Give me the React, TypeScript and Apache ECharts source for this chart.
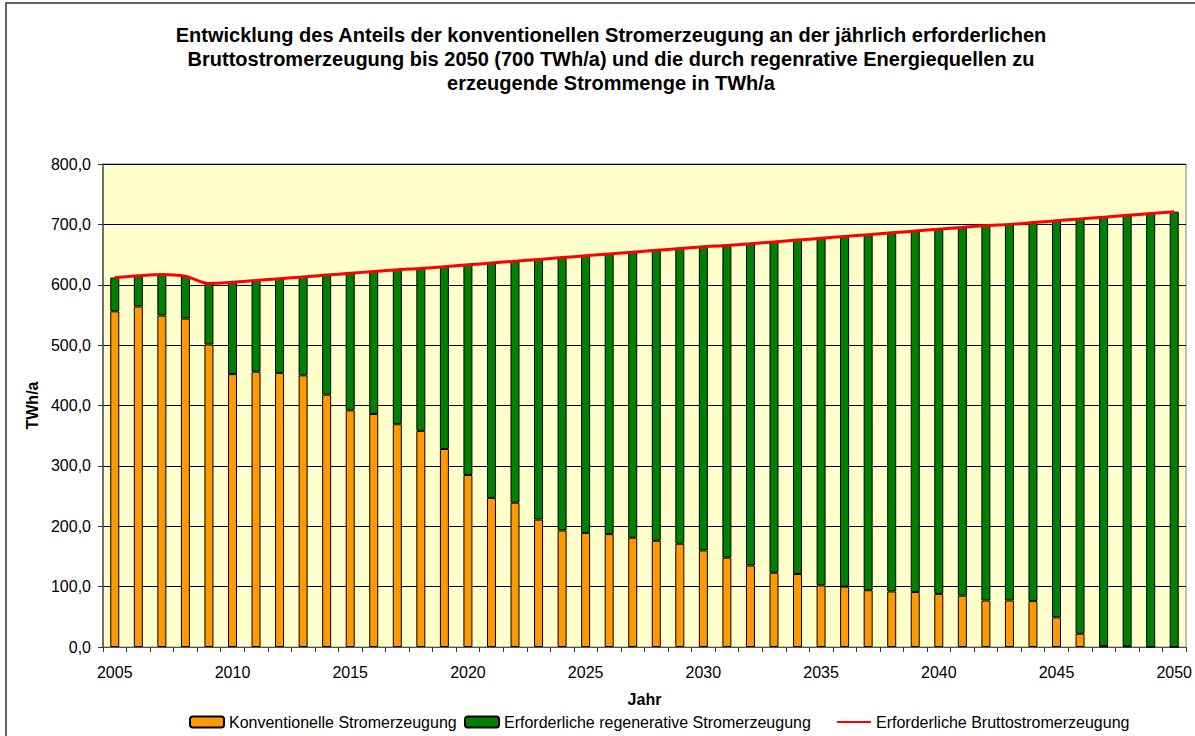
import React, { useEffect, useRef } from "react";
import * as echarts from "echarts";

const years = [
  "2005","2006","2007","2008","2009","2010","2011","2012","2013","2014",
  "2015","2016","2017","2018","2019","2020","2021","2022","2023","2024",
  "2025","2026","2027","2028","2029","2030","2031","2032","2033","2034",
  "2035","2036","2037","2038","2039","2040","2041","2042","2043","2044",
  "2045","2046","2047","2048","2049","2050",
];

const konventionell = [
  556, 564, 549, 544, 501, 452, 456, 454, 450, 418,
  392, 386, 369, 358, 328, 285, 247, 239, 211, 193,
  189, 187, 181, 176, 171, 160, 148, 135, 123, 121,
  102, 100, 94, 92, 91, 88, 85, 77, 77, 76,
  49, 22, 1, 1, 0, 0,
];

const regenerativ = [
  56, 51, 68, 70, 101, 152, 151, 156, 163, 198,
  227, 236, 256, 269, 302, 348, 389, 400, 431, 452,
  459, 464, 473, 481, 489, 503, 517, 533, 548, 553,
  575, 580, 589, 594, 598, 604, 610, 621, 623, 627,
  657, 687, 711, 714, 718, 721,
];

const brutto = [
  612, 615, 617, 614, 602, 604, 607, 610, 613, 616,
  619, 622, 625, 627, 630, 633, 636, 639, 642, 645,
  648, 651, 654, 657, 660, 663, 665, 668, 671, 674,
  677, 680, 683, 686, 689, 692, 695, 698, 700, 703,
  706, 709, 712, 715, 718, 721,
];

const seriesNames = [
  "Konventionelle Stromerzeugung",
  "Erforderliche regenerative Stromerzeugung",
  "Erforderliche Bruttostromerzeugung",
];

const titleText =
  "Entwicklung des Anteils der konventionellen Stromerzeugung an der jährlich erforderlichen\n" +
  "Bruttostromerzeugung bis 2050 (700 TWh/a) und die durch regenrative Energiequellen zu\n" +
  "erzeugende Strommenge in TWh/a";

const FONT = "Arial, 'Liberation Sans', sans-serif";

export default function App() {
  const ref = useRef<HTMLDivElement>(null);

  useEffect(() => {
    if (!ref.current) return;
    const chart = echarts.init(ref.current, null, { renderer: "svg" });
    const legendBase = {
      top: 714,
      padding: 0,
      itemWidth: 34,
      itemHeight: 11,
      itemGap: 7,
      textStyle: { fontFamily: FONT, fontSize: 16, color: "#000" },
    };
    chart.setOption({
      animation: false,
      backgroundColor: "#ffffff",
      textStyle: { fontFamily: FONT, color: "#000" },
      title: {
        text: titleText,
        left: 606,
        top: 18,
        textAlign: "center",
        textStyle: {
          fontFamily: FONT,
          fontSize: 20,
          fontWeight: "bold",
          lineHeight: 24,
          color: "#000",
        },
      },
      graphic: [
        {
          type: "rect",
          shape: { x: 6, y: 3, width: 1300, height: 800 },
          style: { fill: "none", stroke: "#333", lineWidth: 1.5 },
          silent: true,
        },
      ],
      legend: [
        { ...legendBase, left: 189, data: [{ name: seriesNames[0] }] },
        { ...legendBase, left: 464, data: [{ name: seriesNames[1] }] },
        {
          ...legendBase,
          left: 836,
          data: [
            {
              name: seriesNames[2],
              itemStyle: { color: "rgba(0,0,0,0)", borderColor: "rgba(0,0,0,0)", borderWidth: 0 },
            },
          ],
        },
      ],
      grid: {
        left: 103,
        top: 164,
        right: 1195 - 1188,
        bottom: 736 - 647,
        show: true,
        backgroundColor: "#FFFFCC",
        borderColor: "#808080",
        borderWidth: 1,
      },
      xAxis: {
        type: "category",
        data: years,
        boundaryGap: true,
        name: "Jahr",
        nameLocation: "middle",
        nameGap: 44,
        nameTextStyle: { fontFamily: FONT, fontSize: 16, fontWeight: "bold", color: "#000" },
        axisLine: { show: true, lineStyle: { color: "#555", width: 1 } },
        axisTick: { show: true, interval: 0, length: 5, lineStyle: { color: "#333" } },
        axisLabel: {
          interval: 4,
          margin: 17,
          fontFamily: FONT,
          fontSize: 16,
          color: "#000",
        },
        splitLine: { show: false },
      },
      yAxis: {
        type: "value",
        min: 0,
        max: 800,
        interval: 100,
        name: "TWh/a",
        nameLocation: "middle",
        nameRotate: 90,
        nameGap: 62,
        nameTextStyle: { fontFamily: FONT, fontSize: 16, fontWeight: "bold", color: "#000" },
        axisLine: { show: true, lineStyle: { color: "#555", width: 1.5 } },
        axisTick: { show: true, length: 5, lineStyle: { color: "#333" } },
        axisLabel: {
          margin: 12,
          fontFamily: FONT,
          fontSize: 16,
          color: "#000",
          formatter: (v: number) => v.toFixed(1).replace(".", ","),
        },
        splitLine: { show: true, lineStyle: { color: "#000", width: 1 } },
      },
      series: [
        {
          name: seriesNames[0],
          type: "bar",
          stack: "total",
          data: konventionell,
          barWidth: 9,
          itemStyle: { color: "#FF9900", borderColor: "#000", borderWidth: 1 },
        },
        {
          name: seriesNames[1],
          type: "bar",
          stack: "total",
          data: regenerativ,
          barWidth: 9,
          itemStyle: { color: "#008000", borderColor: "#000", borderWidth: 1 },
        },
        {
          name: seriesNames[2],
          type: "line",
          data: brutto,
          smooth: 0.3,
          symbol: "none",
          showSymbol: false,
          z: 5,
          lineStyle: { color: "#FF0000", width: 3 },
          itemStyle: { color: "#FF0000" },
        },
      ],
    });
    return () => chart.dispose();
  }, []);

  return (
    <div
      ref={ref}
      style={{ position: "absolute", left: 0, top: 0, width: 1195, height: 736 }}
    />
  );
}
